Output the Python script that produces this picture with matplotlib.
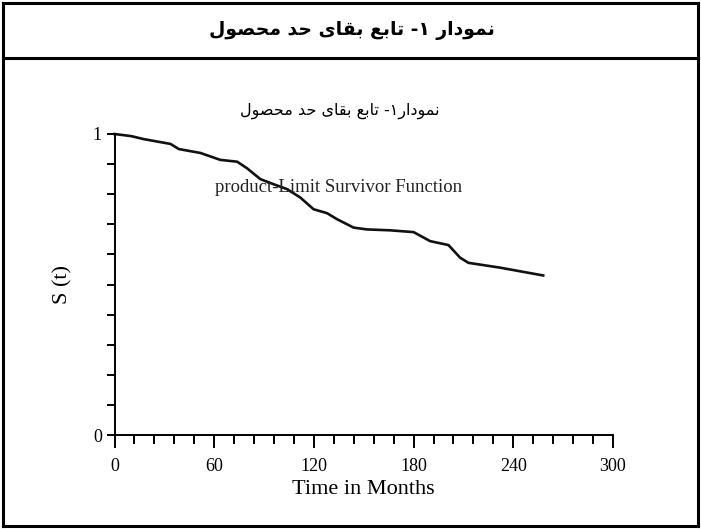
import matplotlib
matplotlib.use("Agg")
import matplotlib.pyplot as plt
from matplotlib.lines import Line2D
from matplotlib.ticker import MultipleLocator, FixedLocator

# survival curve
months = [0, 10, 17.6, 33.7, 38.7, 51.7, 63.7, 73.8, 79.8, 87.8, 95.8, 103.8,
          111.8, 119.8, 127.9, 133.9, 143.9, 151.9, 166, 180, 190, 201, 208,
          213, 232, 258]
surv = [1.0, 0.993, 0.983, 0.967, 0.950, 0.937, 0.914, 0.908, 0.886, 0.85,
        0.833, 0.817, 0.789, 0.75, 0.737, 0.717, 0.689, 0.683, 0.68, 0.674,
        0.644, 0.631, 0.589, 0.572, 0.556, 0.53]

x_major = [0, 60, 120, 180, 240, 300]
y_major = [0, 1]

header_title = "نمودار ۱- تابع بقای حد محصول"
inner_title = "نمودار۱- تابع بقای حد محصول"
curve_label = "product-Limit Survivor Function"


# tiny arabic shaper: matplotlib does no shaping or bidi by itself
FORMS = {
    'ا': ('\uFE8D', '\uFE8E', None, None),
    'ب': ('\uFE8F', '\uFE90', '\uFE91', '\uFE92'),
    'ت': ('\uFE95', '\uFE96', '\uFE97', '\uFE98'),
    'ح': ('\uFEA1', '\uFEA2', '\uFEA3', '\uFEA4'),
    'د': ('\uFEA9', '\uFEAA', None, None),
    'ر': ('\uFEAD', '\uFEAE', None, None),
    'ص': ('\uFEB9', '\uFEBA', '\uFEBB', '\uFEBC'),
    'ع': ('\uFEC9', '\uFECA', '\uFECB', '\uFECC'),
    'ق': ('\uFED5', '\uFED6', '\uFED7', '\uFED8'),
    'ل': ('\uFEDD', '\uFEDE', '\uFEDF', '\uFEE0'),
    'م': ('\uFEE1', '\uFEE2', '\uFEE3', '\uFEE4'),
    'ن': ('\uFEE5', '\uFEE6', '\uFEE7', '\uFEE8'),
    'و': ('\uFEED', '\uFEEE', None, None),
    'ی': ('\uFBFC', '\uFBFD', '\uFBFE', '\uFBFF'),
}


def shape(txt):
    out = []
    for i, ch in enumerate(txt):
        if ch not in FORMS:
            out.append(ch)
            continue
        prev = txt[i - 1] if i > 0 else ''
        nxt = txt[i + 1] if i + 1 < len(txt) else ''
        join_prev = prev in FORMS and FORMS[prev][2] is not None
        join_next = FORMS[ch][2] is not None and nxt in FORMS
        iso, fin, ini, med = FORMS[ch]
        if join_prev and join_next:
            out.append(med)
        elif join_prev:
            out.append(fin)
        elif join_next:
            out.append(ini)
        else:
            out.append(iso)
    return ''.join(out)[::-1]


serif = ['Liberation Serif', 'DejaVu Serif']
arab = ['DejaVu Sans']

W, H = 701, 529
fig = plt.figure(figsize=(W / 100, H / 100), dpi=100)

# outer frame and header line
def fline(x0, y0, x1, y1, lw=2.2):
    fig.add_artist(Line2D([x0 / W, x1 / W], [1 - y0 / H, 1 - y1 / H],
                          color='black', lw=lw, solid_capstyle='projecting'))

fline(3, 3, 698, 3)
fline(3, 526, 698, 526)
fline(3, 3, 3, 526)
fline(698, 3, 698, 526)
fline(3, 58, 698, 58)

fig.text(352 / W, 1 - 31 / H, shape(header_title), family=arab,
         fontweight='bold', fontsize=13.5, ha='center', va='center')

ax = fig.add_axes([114.5 / W, 1 - 435 / H, (613 - 114.5) / W, (435 - 134) / H])
ax.plot(months, surv, color='#111111', lw=1.9, clip_on=False)

ax.set_xlim(0, 300)
ax.set_ylim(0, 1)
for s in ['top', 'right']:
    ax.spines[s].set_visible(False)
for s in ['left', 'bottom']:
    ax.spines[s].set_linewidth(1.4)

ax.xaxis.set_major_locator(FixedLocator(x_major))
ax.xaxis.set_minor_locator(MultipleLocator(12))
ax.yaxis.set_major_locator(FixedLocator(y_major))
ax.yaxis.set_minor_locator(MultipleLocator(0.1))
ax.set_yticklabels([str(v) for v in y_major])
ax.tick_params(axis='x', which='major', direction='out', length=9, width=1.4,
               pad=7.5, labelsize=13)
ax.tick_params(axis='x', which='minor', direction='out', length=6.5, width=1.4)
ax.tick_params(axis='y', which='both', direction='out', length=6, width=1.4,
               pad=3, labelsize=13)
for lab in ax.get_xticklabels() + ax.get_yticklabels():
    lab.set_family(serif)

fig.text(340 / W, 1 - 111 / H, shape(inner_title), family=arab,
         fontsize=11.5, ha='center', va='center')
fig.text(215 / W, 1 - 187 / H, curve_label, family=serif, fontsize=13.5,
         ha='left', va='center', color='#222222')
fig.text(363 / W, 1 - 490 / H, 'Time in Months', family=serif, fontsize=16,
         ha='center', va='center')
fig.text(63 / W, 1 - 284 / H, 'S (t)', family=serif, fontsize=16,
         rotation=90, ha='center', va='center')

fig.savefig('out.png', dpi=100)
